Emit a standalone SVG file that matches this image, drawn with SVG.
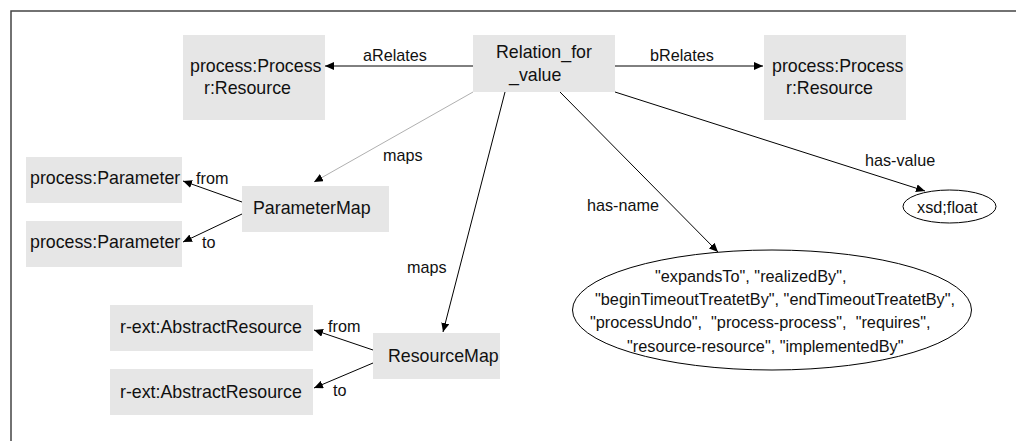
<svg xmlns="http://www.w3.org/2000/svg" width="1016" height="441" viewBox="0 0 1016 441">
  <style>
    .box { fill: #e6e6e6; stroke: none; }
    .ell { fill: #ffffff; stroke: #000000; stroke-width: 1; }
    .nt { font-family: "Liberation Sans", Arial, sans-serif; font-size: 17.8px; fill: #111111; }
    .lt { font-family: "Liberation Sans", Arial, sans-serif; font-size: 16.2px; fill: #111111; }
    .et { font-family: "Liberation Sans", Arial, sans-serif; font-size: 16.3px; fill: #111111; white-space: pre; }
    .edge { fill: none; stroke: #000000; stroke-width: 1; marker-end: url(#arrow); }
    .edge.light { stroke: #b0b0b0; }
  </style>
  <defs>
    <marker id="arrow" markerUnits="userSpaceOnUse" markerWidth="9" markerHeight="8" viewBox="0 0 9 8" refX="9" refY="4" orient="auto">
      <path d="M0,0 L9,4 L0,8 z" fill="#000000"/>
    </marker>
  </defs>

  <rect x="0" y="0" width="1016" height="441" fill="#ffffff"/>
  <!-- frame -->
  <path d="M11,441 L11,11 L1016,11" fill="none" stroke="#444444" stroke-width="1.5"/>

  <!-- connectors -->
  <g id="connectors">
    <line class="edge" x1="473" y1="66" x2="325" y2="66"/>
    <line class="edge" x1="615" y1="66" x2="763" y2="66"/>
    <line class="edge light" x1="473" y1="92" x2="314" y2="182"/>
    <line class="edge" x1="505" y1="92" x2="443" y2="332"/>
    <line class="edge" x1="560" y1="92" x2="718" y2="252"/>
    <line class="edge" x1="615" y1="92" x2="925" y2="191"/>
    <line class="edge" x1="242" y1="202" x2="183" y2="181"/>
    <line class="edge" x1="242" y1="214" x2="183" y2="242"/>
    <line class="edge" x1="373" y1="350" x2="314" y2="330"/>
    <line class="edge" x1="373" y1="363" x2="314" y2="388"/>

    <text class="lt" x="363" y="61">aRelates</text>
    <text class="lt" x="650" y="61">bRelates</text>
    <text class="lt" x="383" y="161">maps</text>
    <text class="lt" x="407" y="273">maps</text>
    <text class="lt" x="587" y="211">has-name</text>
    <text class="lt" x="865" y="166">has-value</text>
    <text class="lt" x="196" y="184">from</text>
    <text class="lt" x="202" y="248">to</text>
    <text class="lt" x="328" y="332">from</text>
    <text class="lt" x="333" y="396">to</text>
  </g>

  <!-- nodes -->
  <g id="relation-for-value">
    <rect class="box" x="473" y="35" width="142" height="57"/>
    <text class="nt" x="496" y="58">Relation_for</text>
    <text class="nt" x="509" y="81">_value</text>
  </g>

  <g id="a-process">
    <rect class="box" x="183" y="35" width="142" height="85"/>
    <text class="nt" x="190" y="72">process:Process</text>
    <text class="nt" x="204" y="94">r:Resource</text>
  </g>

  <g id="b-process">
    <rect class="box" x="764" y="35" width="142" height="85"/>
    <text class="nt" x="772" y="72">process:Process</text>
    <text class="nt" x="786" y="94">r:Resource</text>
  </g>

  <g id="parameter-map">
    <rect class="box" x="242" y="186" width="147" height="46"/>
    <text class="nt" x="253" y="214">ParameterMap</text>
  </g>

  <g id="parameter-from">
    <rect class="box" x="26" y="157" width="156" height="46"/>
    <text class="nt" x="30" y="184">process:Parameter</text>
  </g>

  <g id="parameter-to">
    <rect class="box" x="26" y="221" width="156" height="46"/>
    <text class="nt" x="30" y="248">process:Parameter</text>
  </g>

  <g id="resource-map">
    <rect class="box" x="373" y="333" width="127" height="46"/>
    <text class="nt" x="388" y="362">ResourceMap</text>
  </g>

  <g id="resource-from">
    <rect class="box" x="110" y="305" width="203" height="46"/>
    <text class="nt" x="120" y="333">r-ext:AbstractResource</text>
  </g>

  <g id="resource-to">
    <rect class="box" x="110" y="369" width="203" height="46"/>
    <text class="nt" x="120" y="398">r-ext:AbstractResource</text>
  </g>

  <g id="name-values">
    <ellipse class="ell" cx="772" cy="310" rx="199.5" ry="60"/>
    <text class="et" x="655" y="282">"expandsTo", "realizedBy",</text>
    <text class="et" x="595" y="305">"beginTimeoutTreatetBy", "endTimeoutTreatetBy",</text>
    <text class="et" x="590" y="328">"processUndo",  "process-process",  "requires",</text>
    <text class="et" x="627" y="352">"resource-resource", "implementedBy"</text>
  </g>

  <g id="value-type">
    <ellipse class="ell" cx="949.5" cy="206.5" rx="46.5" ry="16.5"/>
    <text class="et" x="917" y="213">xsd;float</text>
  </g>
</svg>
